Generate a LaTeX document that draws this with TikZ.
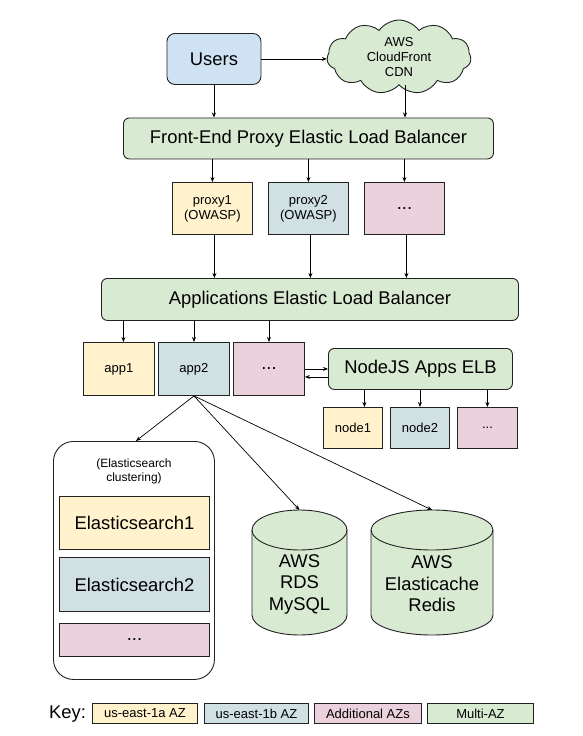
\documentclass[tikz,border=0pt]{standalone}
\usepackage{fontspec}
\setmainfont{Liberation Sans}
\usetikzlibrary{shapes.symbols,arrows.meta,positioning}
\definecolor{cyel}{HTML}{FFF2CC}
\definecolor{cblu}{HTML}{D0E0E3}
\definecolor{cusr}{HTML}{CFE2F3}
\definecolor{cpnk}{HTML}{EAD1DC}
\definecolor{cgrn}{HTML}{D9EAD3}
\definecolor{cbrd}{HTML}{222222}
\tikzset{
  box/.style={draw=cbrd, line width=0.9pt, inner sep=0pt, anchor=north west, align=center},
  rbox/.style={box, rounded corners=6pt},
  big/.style={font=\fontsize{18.4}{21.5}\selectfont},
  small/.style={font=\fontsize{13}{15}\selectfont},
  arr/.style={-{Stealth[length=5pt,width=4pt]}, line width=0.7pt, black},
  cyl/.style={draw=cbrd, line width=0.9pt, fill=cgrn},
}
\begin{document}
\begin{tikzpicture}[x=1pt,y=1pt]
\useasboundingbox (0,0) rectangle (583,-736);
% Users
\node[rbox, rounded corners=8pt, fill=cusr, big, minimum width=94pt, minimum height=51pt] (users) at (166.5,-33) {Users};
% Cloud
\node[cloud, cloud puffs=11, cloud puff arc=110, aspect=2.0, draw=cbrd, line width=0.9pt, fill=cgrn,
      minimum width=144pt, minimum height=74pt, inner sep=0pt, align=center, small] (cloud) at (399,-57)
      {AWS\\CloudFront\\CDN};
% Front-end ELB
\node[rbox, fill=cgrn, big, minimum width=370pt, minimum height=41pt] (feelb) at (123,-117.5) {Front-End Proxy Elastic Load Balancer};
% proxies
\node[box, fill=cyel, small, minimum width=80pt, minimum height=52pt] (proxy1) at (172,-182) {proxy1\\(OWASP)};
\node[box, fill=cblu, small, minimum width=80pt, minimum height=52pt] (proxy2) at (268,-182) {proxy2\\(OWASP)};
\node[box, fill=cpnk, big, minimum width=80pt, minimum height=52pt] (proxy3) at (364,-182) {...};
% App ELB
\node[rbox, fill=cgrn, big, minimum width=417pt, minimum height=42pt] (appelb) at (101,-278) {Applications Elastic Load Balancer};
% apps
\node[box, fill=cyel, small, minimum width=71pt, minimum height=53pt] (app1) at (83,-342) {app1};
\node[box, fill=cblu, small, minimum width=71pt, minimum height=53pt] (app2) at (158,-342) {app2};
\node[box, fill=cpnk, big, minimum width=71pt, minimum height=53pt] (app3) at (233,-342) {...};
% NodeJS ELB
\node[rbox, fill=cgrn, big, minimum width=184pt, minimum height=41pt] (nodeelb) at (328,-348) {NodeJS Apps ELB};
% nodes
\node[box, fill=cyel, small, minimum width=59pt, minimum height=41pt] (node1) at (323,-407) {node1};
\node[box, fill=cblu, small, minimum width=59pt, minimum height=41pt] (node2) at (390,-407) {node2};
\node[box, fill=cpnk, small, minimum width=60pt, minimum height=41pt] (node3) at (457,-407) {...};
% Elasticsearch group
\node[box, rounded corners=20pt, fill=white, minimum width=161pt, minimum height=238pt] (esgroup) at (53,-441) {};
\node[font=\fontsize{12}{14}\selectfont, align=center, inner sep=0pt] (eslabel) at (134,-471) {(Elasticsearch\\clustering)};
\node[box, fill=cyel, big, minimum width=150pt, minimum height=53pt] (es1) at (59,-496) {Elasticsearch1};
\node[box, fill=cblu, big, minimum width=150pt, minimum height=54pt] (es2) at (59,-557) {Elasticsearch2};
\node[box, fill=cpnk, big, minimum width=150pt, minimum height=33pt] (es3) at (59,-623) {...};
% RDS cylinder
\path[cyl] (252,-530) -- (252,-615) arc[start angle=180,end angle=360,x radius=47.5pt,y radius=20pt]
  -- (347,-530) arc[start angle=0,end angle=180,x radius=47.5pt,y radius=20pt] -- cycle;
\draw[draw=cbrd, line width=0.9pt] (252,-530) arc[start angle=180,end angle=360,x radius=47.5pt,y radius=20pt];
\coordinate (rdstop) at (299.5,-510);
\node[big, align=center, inner sep=0pt] (rdstext) at (299.5,-584) {AWS\\RDS\\MySQL};
% Redis cylinder
\path[cyl] (371,-530) -- (371,-615) arc[start angle=180,end angle=360,x radius=61pt,y radius=20pt]
  -- (493,-530) arc[start angle=0,end angle=180,x radius=61pt,y radius=20pt] -- cycle;
\draw[draw=cbrd, line width=0.9pt] (371,-530) arc[start angle=180,end angle=360,x radius=61pt,y radius=20pt];
\coordinate (redistop) at (432,-510);
\node[big, align=center, inner sep=0pt] (redistext) at (432,-584) {AWS\\Elasticache\\Redis};
% Key
\node[big, anchor=west, inner sep=0pt] (key) at (49,-714) {Key:};
\node[box, fill=cyel, small, minimum width=105pt, minimum height=20pt] (k1) at (92,-703) {us-east-1a AZ};
\node[box, fill=cblu, small, minimum width=104pt, minimum height=20pt] (k2) at (204,-703) {us-east-1b AZ};
\node[box, fill=cpnk, small, minimum width=107pt, minimum height=20pt] (k3) at (314,-703) {Additional AZs};
\node[box, fill=cgrn, small, minimum width=106pt, minimum height=20pt] (k4) at (427,-703) {Multi-AZ};
% connectors
\draw[arr] (users.east) -- (users.east -| cloud.west);
\draw[arr] (users.south) -- (users.south |- feelb.north);
\draw[arr] ([xshift=6pt]cloud.south) -- ([xshift=6pt]cloud.south |- feelb.north);
\foreach \p in {proxy1,proxy2,proxy3}{
  \draw[arr] (\p.north |- feelb.south) -- (\p.north);
  \draw[arr] ([xshift=2pt]\p.south) -- ([xshift=2pt]\p.south |- appelb.north);
}
\draw[arr] ([xshift=4.5pt]app1.north |- appelb.south) -- ([xshift=4.5pt]app1.north);
\draw[arr] (app2.north |- appelb.south) -- (app2.north);
\draw[arr] (app3.north |- appelb.south) -- (app3.north);
\draw[arr] (app3.east) -- (app3.east -| nodeelb.west);
\draw[arr] ([yshift=-8pt]nodeelb.west) -- ([yshift=-8pt]nodeelb.west -| app3.east);
\draw[arr] ([xshift=11.5pt]node1.north |- nodeelb.south) -- ([xshift=11.5pt]node1.north);
\draw[arr] (node2.north |- nodeelb.south) -- (node2.north);
\draw[arr] (node3.north |- nodeelb.south) -- (node3.north);
\draw[arr] (app2.south) -- ([xshift=2pt]esgroup.north);
\draw[arr] (app2.south) -- (rdstop);
\draw[arr] (app2.south) -- (redistop);
\end{tikzpicture}
\end{document}
